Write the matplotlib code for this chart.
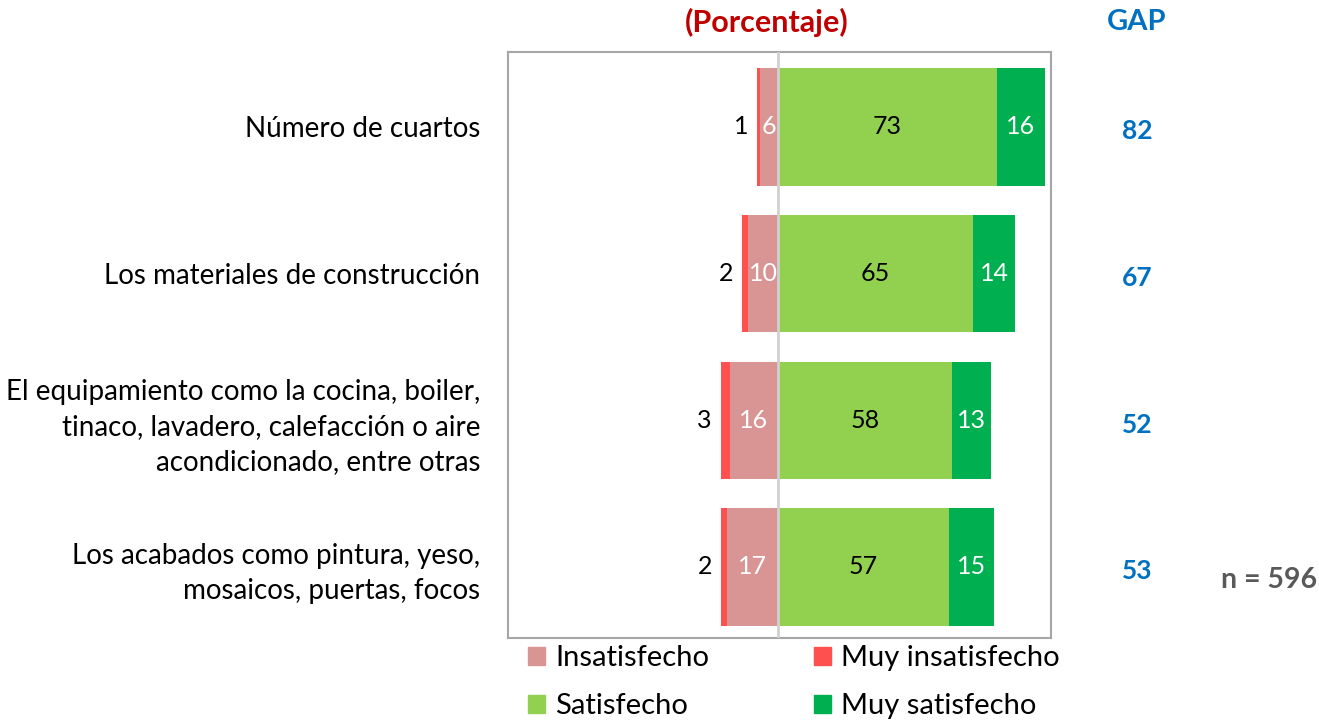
import numpy as np
import matplotlib.pyplot as plt
import matplotlib.transforms as mtransforms
from matplotlib.patches import Patch

plt.rcParams['font.family'] = ['Lato', 'DejaVu Sans']

categorias = [
    'Número de cuartos',
    'Los materiales de construcción',
    'El equipamiento como la cocina, boiler,\ntinaco, lavadero, calefacción o aire\nacondicionado, entre otras',
    'Los acabados como pintura, yeso,\nmosaicos, puertas, focos',
]
muy_insatisfecho = [1, 2, 3, 2]
insatisfecho = [6, 10, 16, 17]
satisfecho = [73, 65, 58, 57]
muy_satisfecho = [16, 14, 13, 15]
gap = [82, 67, 52, 53]
n_total = 596

c_ins = '#D99594'
c_muy_ins = '#FF5050'
c_sat = '#92D050'
c_muy_sat = '#00B050'

fig = plt.figure(figsize=(13.19, 7.2), dpi=100)
ax = fig.add_axes([0.3851, 0.1139, 0.4117, 0.8139])

y = np.arange(len(categorias))
ins = np.array(insatisfecho)
mins = np.array(muy_insatisfecho)
sat = np.array(satisfecho)
msat = np.array(muy_satisfecho)
h = 0.8

ax.barh(y, -ins, height=h, color=c_ins)
ax.barh(y, -mins, left=-ins, height=h, color=c_muy_ins)
ax.barh(y, sat, height=h, color=c_sat)
ax.barh(y, msat, left=sat, height=h, color=c_muy_sat)

fs = 20
fs_num = 18
for i in range(len(y)):
    ax.text(-ins[i] / 2, y[i], str(ins[i]), ha='center', va='center',
            color='white', fontsize=fs_num)
    ax.text(-ins[i] - mins[i] - 3, y[i], str(mins[i]), ha='right',
            va='center', color='black', fontsize=fs_num)
    ax.text(sat[i] / 2, y[i], str(sat[i]), ha='center', va='center',
            color='black', fontsize=fs_num)
    ax.text(sat[i] + msat[i] / 2, y[i], str(msat[i]), ha='center',
            va='center', color='white', fontsize=fs_num)

# linea del cero encima de las barras
ax.axvline(0, color='#D0D0D0', linewidth=2, zorder=5)

ax.set_xlim(-90, 91)
ax.set_ylim(3.484, -0.511)
ax.set_xticks([])
ax.set_yticks(y)
ax.set_yticklabels(categorias, fontsize=fs, linespacing=1.42)
ax.tick_params(axis='y', length=0, pad=20)
for s in ax.spines.values():
    s.set_color('#A6A6A6')
    s.set_linewidth(1.5)

# columna GAP
trans = mtransforms.blended_transform_factory(fig.transFigure, ax.transData)
for i, g in enumerate(gap):
    ax.text(1137 / 1319, y[i] + 0.03, str(g), transform=trans, ha='center',
            va='center', color='#0070C0', fontsize=19, fontweight='bold')

fig.text(767 / 1319, 1 - 22 / 720, '(Porcentaje)', ha='center', va='center',
         color='#C00000', fontsize=22, fontweight='bold')
fig.text(1137 / 1319, 1 - 22 / 720, 'GAP', ha='center', va='center',
         color='#0070C0', fontsize=21, fontweight='bold')
fig.text(1269 / 1319, 1 - 580 / 720, f'n = {n_total}', ha='center',
         va='center', color='#595959', fontsize=20.5, fontweight='bold')

handles = [Patch(color=c_ins), Patch(color=c_sat),
           Patch(color=c_muy_ins), Patch(color=c_muy_sat)]
labels = ['Insatisfecho', 'Satisfecho', 'Muy insatisfecho', 'Muy satisfecho']
fig.legend(handles, labels, ncol=2, loc='upper left',
           bbox_to_anchor=(528 / 1319, 1 - 645 / 720), frameon=False,
           fontsize=21, handlelength=0.58, handleheight=0.58,
           handletextpad=0.35, columnspacing=3.6, labelspacing=0.76,
           borderaxespad=0, borderpad=0)

fig.savefig('out.png', dpi=100)
